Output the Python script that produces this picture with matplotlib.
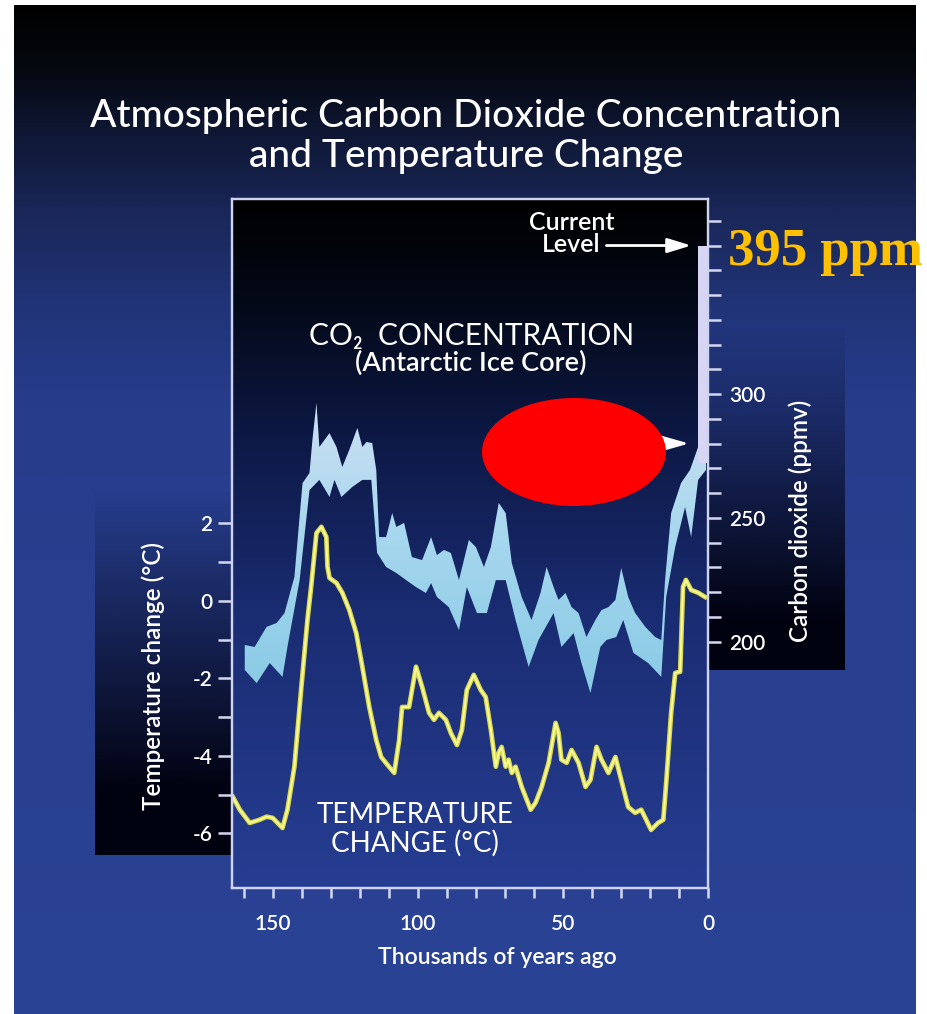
import numpy as np
import matplotlib
matplotlib.use("Agg")
import matplotlib.pyplot as plt
from matplotlib.colors import LinearSegmentedColormap, to_rgb
from matplotlib.patches import Ellipse, Polygon

# ---------------- data ----------------
co2_upper_age = [159.6, 156.2, 152.1, 148.6, 145.9, 142.5, 139.7, 137.3, 136.3, 134.9, 133.9, 130.4,
                 128.0, 126.0, 123.6, 120.8, 119.1, 117.7, 115.7, 114.3, 113.3, 110.9, 108.8, 107.4,
                 104.7, 102.0, 98.5, 95.4, 93.4, 91.0, 88.6, 85.8, 82.4, 80.0, 77.2, 74.8, 72.1, 69.7,
                 67.6, 64.2, 60.8, 57.7, 55.6, 53.2, 51.5, 49.1, 47.0, 44.6, 41.9, 38.8, 36.7, 34.3,
                 31.9, 29.9, 27.5, 25.1, 21.6, 18.2, 16.1, 14.8, 12.7, 9.3, 6.2, 3.4, 1.7, 0.7]
co2_upper_ppm = [198.6, 197.8, 205.9, 207.5, 211.5, 226.1, 264.0, 268.1, 281.4, 296.4, 278.6, 284.2,
                 278.6, 270.5, 277.4, 286.3, 278.6, 280.6, 280.2, 269.3, 242.2, 242.2, 251.9, 246.3,
                 247.9, 234.1, 232.9, 242.2, 234.9, 237.0, 235.8, 224.8, 241.0, 238.2, 230.1, 238.2,
                 256.0, 251.9, 231.7, 218.0, 208.7, 219.6, 230.1, 222.0, 216.8, 219.6, 213.9, 211.5,
                 201.8, 208.7, 212.7, 213.9, 216.8, 229.7, 218.0, 211.5, 205.9, 201.8, 200.6, 224.8,
                 251.9, 264.0, 269.3, 278.6, 281.4, 282.0]
co2_lower_age = [159.6, 155.5, 151.0, 146.6, 144.9, 140.7, 137.3, 133.9, 130.4, 128.7, 126.3, 122.6,
                 119.1, 116.0, 114.0, 110.9, 107.4, 104.0, 100.6, 97.2, 95.4, 93.4, 89.3, 85.8, 83.1,
                 79.6, 76.2, 73.1, 69.7, 66.3, 61.8, 58.4, 53.2, 50.5, 46.3, 43.6, 40.5, 37.1, 35.0,
                 31.6, 29.2, 25.7, 20.6, 16.1, 14.4, 11.3, 7.9, 5.8, 3.4, 0.7]
co2_lower_ppm = [188.5, 183.2, 191.3, 185.7, 197.8, 224.8, 261.2, 265.3, 258.4, 265.3, 258.4, 262.4,
                 265.3, 265.3, 235.8, 230.1, 227.7, 224.8, 222.0, 219.6, 223.6, 218.0, 213.9, 204.6,
                 222.0, 211.5, 211.5, 224.8, 224.8, 208.7, 189.7, 200.6, 211.5, 197.8, 203.4, 191.3,
                 179.2, 197.8, 200.6, 201.8, 208.7, 195.4, 191.3, 185.7, 218.0, 238.2, 254.3, 242.2,
                 265.3, 269.3]

temp_age = [163.7, 161.3, 157.9, 154.5, 152.1, 150.0, 148.3, 146.6, 144.9, 142.5, 140.1, 138.0, 136.6,
            134.9, 133.2, 131.5, 131.1, 130.4, 128.0, 126.0, 123.6, 121.2, 119.1, 116.7, 114.3, 112.6,
            109.9, 108.1, 106.4, 105.4, 103.0, 100.6, 98.5, 96.1, 94.4, 92.7, 90.3, 88.6, 86.5, 84.8,
            83.1, 80.7, 78.3, 76.6, 74.8, 73.1, 72.1, 71.1, 69.7, 68.7, 67.6, 66.3, 64.2, 61.1, 59.4,
            57.3, 54.9, 52.5, 51.5, 50.5, 48.7, 47.0, 44.6, 42.2, 40.5, 38.4, 36.7, 34.3, 31.9, 29.9,
            27.5, 25.1, 23.0, 21.3, 19.6, 17.2, 15.4, 14.4, 12.7, 11.3, 9.6, 8.6, 7.6, 5.8, 3.4, 1.0]
temp_change = [-5.06, -5.39, -5.73, -5.65, -5.57, -5.60, -5.73, -5.86, -5.39, -4.28, -2.22, -0.49, 0.46,
               1.75, 1.91, 1.65, 0.88, 0.59, 0.46, 0.21, -0.23, -0.83, -1.70, -2.74, -3.59, -4.03,
               -4.28, -4.44, -3.59, -2.74, -2.74, -1.70, -2.22, -2.89, -3.07, -2.89, -3.07, -3.41,
               -3.72, -3.33, -2.30, -1.91, -2.30, -2.48, -3.33, -4.28, -3.92, -3.77, -4.28, -4.10,
               -4.44, -4.28, -4.80, -5.39, -5.21, -4.80, -4.18, -3.15, -3.41, -4.10, -4.18, -3.85,
               -4.18, -4.80, -4.62, -3.77, -4.10, -4.44, -4.03, -4.62, -5.32, -5.47, -5.39, -5.65,
               -5.91, -5.73, -5.65, -4.70, -2.89, -1.86, -1.83, 0.36, 0.54, 0.28, 0.21, 0.10]

current_level_ppm = 360
preindustrial_ppm = 280
modern_rise_base_ppm = 272
x_ticks = [150, 100, 50, 0]
x_tick_labels = ["150", "100", "50", "0"]
x_minor_ticks = [160, 140, 130, 120, 110, 90, 80, 70, 60, 40, 30, 20, 10]
temp_ticks = [2, 0, -2, -4, -6]
temp_tick_labels = ["2", "0", "-2", "-4", "-6"]
temp_minor_ticks = [1, -1, -3, -5]
co2_ticks = [200, 250, 300]
co2_tick_labels = ["200", "250", "300"]
co2_minor_ticks = [210, 220, 230, 240, 260, 270, 280, 290, 310, 320, 330, 340, 350, 360, 370]

# ---------------- figure ----------------
plt.rcParams["font.family"] = ["Lato", "DejaVu Sans"]
W, H = 928, 1014
fig = plt.figure(figsize=(W / 100, H / 100), dpi=100, facecolor="white")


def fx(px):
    return px / W


def fy(py):
    return 1 - py / H


def vgrad(stops, n=512):
    cmap = LinearSegmentedColormap.from_list("g", stops)
    return cmap(np.linspace(0, 1, n))[:, None, :]


# background axes in pixel coordinates
bg = fig.add_axes([0, 0, 1, 1], zorder=-10)
bg.set_xlim(0, W)
bg.set_ylim(H, 0)
bg.axis("off")

panel = vgrad([(0.0, "#000000"), (0.06, "#05080f"), (0.12, "#0e1631"), (0.2, "#192656"),
               (0.3, "#213479"), (0.4, "#273d8c"), (1.0, "#2b4395")])
bg.imshow(panel, extent=(14, 916, 1014, 5), aspect="auto", origin="upper", zorder=0)


def alpha_box(x0, x1, y0, y1, ystart, yfull, amax, color="#00000c"):
    ys = np.linspace(y0, y1, 400)
    a = np.clip((ys - ystart) / (yfull - ystart), 0, 1) * amax
    rgb = to_rgb(color)
    img = np.zeros((400, 1, 4))
    img[:, 0, :3] = rgb
    img[:, 0, 3] = a
    bg.imshow(img, extent=(x0, x1, y1, y0), aspect="auto", origin="upper", zorder=1)


alpha_box(95, 232, 470, 855, 490, 790, 0.97)
alpha_box(708, 845, 310, 670, 325, 620, 0.97)

inner = vgrad([(0.0, "#000000"), (0.15, "#040918"), (0.35, "#0d1946"), (0.6, "#1a2c72"),
               (1.0, "#263d92")])
L, R, T, B = 232, 708, 199, 888
bg.imshow(inner, extent=(L, R, B, T), aspect="auto", origin="upper", zorder=2)

# ---------------- data axes ----------------
XMIN, XMAX = 164.0, 0.0
ax_t = fig.add_axes([fx(L), fy(B), (R - L) / W, (B - T) / H])
ax_t.patch.set_visible(False)
ax_c = ax_t.twinx()
ax_c.patch.set_visible(False)

T_LIM = (-7.41, 10.37)
C_LIM = (100.4, 378.8)

# temperature curve
ax_t.plot(temp_age, temp_change, color="#d8d850", lw=3.4, solid_joinstyle="round", zorder=3)
ax_t.plot(temp_age, temp_change, color="#fafa96", lw=1.4, solid_joinstyle="round", zorder=4)

# CO2 band with vertical gradient
verts = list(zip(co2_upper_age, co2_upper_ppm)) + list(zip(co2_lower_age[::-1], co2_lower_ppm[::-1]))
poly = Polygon(verts, closed=True, facecolor="none", edgecolor="none")
ax_c.add_patch(poly)
band_cmap = LinearSegmentedColormap.from_list("band", ["#8ccbe6", "#a6d7ee", "#cfe0f3"])
ppm_grid = np.linspace(C_LIM[0], C_LIM[1], 512)[:, None]
im = ax_c.imshow(ppm_grid, cmap=band_cmap, vmin=185, vmax=300, extent=(XMIN, XMAX, C_LIM[0], C_LIM[1]),
                 origin="lower", aspect="auto", zorder=2)
im.set_clip_path(poly)

# modern rise bar up to the current level
ax_c.fill_between([0.5, 3.6], modern_rise_base_ppm, current_level_ppm, color="#d6d6f4", lw=0, zorder=3)

# arrows
ax_c.annotate("", xy=(5.8, current_level_ppm), xytext=(35.0, current_level_ppm),
              arrowprops=dict(arrowstyle="-|>,head_length=1.3,head_width=0.4", color="white",
                              lw=2, mutation_scale=11, shrinkA=0, shrinkB=0), zorder=6)
ax_c.annotate("", xy=(6.5, preindustrial_ppm), xytext=(40.0, preindustrial_ppm),
              arrowprops=dict(arrowstyle="-|>,head_length=1.6,head_width=0.45", color="white",
                              lw=2, mutation_scale=11, shrinkA=0, shrinkB=0), zorder=6)

ax_t.set_xlim(XMIN, XMAX)
ax_t.set_ylim(*T_LIM)
ax_c.set_ylim(*C_LIM)

# ticks
tick_col = "#d4d8f0"
ax_t.set_xticks(x_ticks, x_tick_labels)
ax_t.set_xticks(x_minor_ticks, minor=True)
ax_t.set_yticks(temp_ticks, temp_tick_labels)
ax_t.set_yticks(temp_minor_ticks, minor=True)
ax_c.set_yticks(co2_ticks, co2_tick_labels)
ax_c.set_yticks(co2_minor_ticks, minor=True)

ax_t.tick_params(axis="x", which="both", direction="out", length=7.5, width=1.8, color=tick_col,
                 labelcolor="white", labelsize=15, pad=11, top=False)
ax_t.tick_params(axis="y", which="both", direction="out", length=10, width=1.8, color=tick_col,
                 labelcolor="white", labelsize=15, pad=4, left=True, right=False)
ax_c.tick_params(axis="y", which="both", direction="out", length=9, width=1.8, color=tick_col,
                 labelcolor="white", labelsize=15, pad=6, right=True, left=False)
for lbl in ax_t.get_xticklabels() + ax_t.get_yticklabels() + ax_c.get_yticklabels():
    lbl.set_fontweight("semibold")

for a in (ax_t, ax_c):
    for s in a.spines.values():
        s.set_color("#cdd3f0")
        s.set_linewidth(1.6)

# ---------------- texts ----------------
fig.text(fx(466), fy(117), "Atmospheric Carbon Dioxide Concentration", ha="center", va="center",
         color="white", fontsize=28, fontweight="medium")
fig.text(fx(466), fy(156), "and Temperature Change", ha="center", va="center", color="white",
         fontsize=28, fontweight="medium")

fig.text(fx(572), fy(222), "Current", ha="center", va="center", color="white", fontsize=18,
         fontweight="semibold")
fig.text(fx(571), fy(245), "Level", ha="center", va="center", color="white", fontsize=18,
         fontweight="semibold")

fig.text(fx(472), fy(336), "CO₂  CONCENTRATION", ha="center", va="center", color="white",
         fontsize=21.5)
fig.text(fx(471), fy(363), "(Antarctic Ice Core)", ha="center", va="center", color="white",
         fontsize=19.5, fontweight="semibold")

fig.text(fx(415), fy(815), "TEMPERATURE", ha="center", va="center", color="white", fontsize=20)
fig.text(fx(415), fy(843), "CHANGE (°C)", ha="center", va="center", color="white", fontsize=20)

fig.text(fx(153), fy(676), "Temperature change (°C)", rotation=90, ha="center", va="center",
         color="white", fontsize=17.5, fontweight="semibold")
fig.text(fx(800), fy(521), "Carbon dioxide (ppmv)", rotation=90, ha="center", va="center",
         color="white", fontsize=17.5, fontweight="semibold")
fig.text(fx(497), fy(958), "Thousands of years ago", ha="center", va="center", color="white",
         fontsize=16.5, fontweight="semibold")

# red ellipse overlay and the added "395 ppm" annotation
ell = Ellipse((fx(574), fy(452)), width=184 / W, height=108 / H, transform=fig.transFigure,
              facecolor="#ff0000", edgecolor="none", zorder=20)
fig.add_artist(ell)
fig.text(fx(728), fy(265), "395 ppm", ha="left", va="baseline", color="#ffc000",
         family=["Liberation Serif", "DejaVu Serif"], fontweight="bold", fontsize=38, zorder=30)

fig.savefig("out.png", dpi=100, facecolor=fig.get_facecolor())
